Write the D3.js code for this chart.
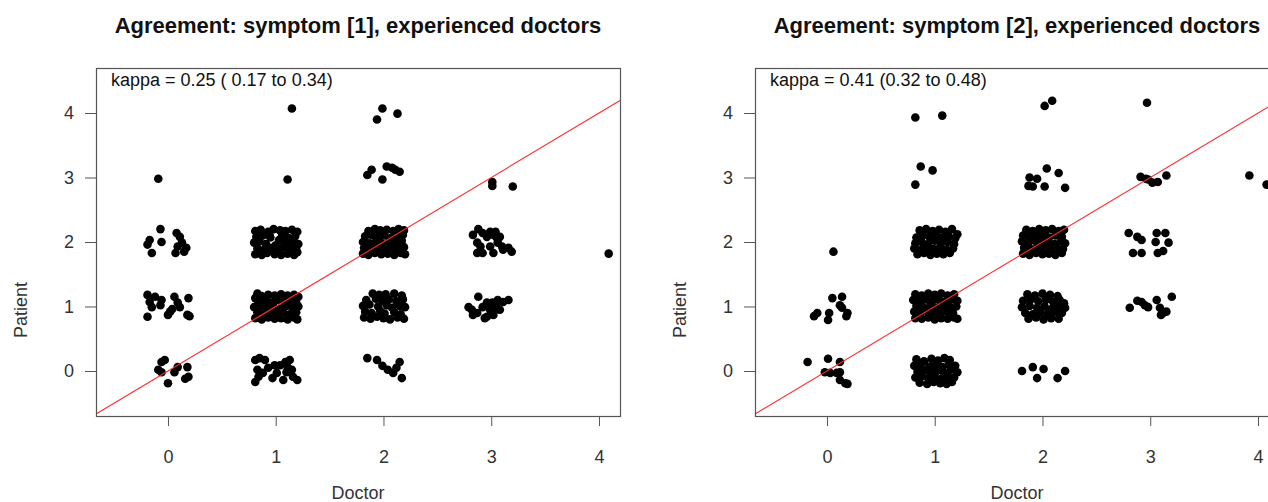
<!DOCTYPE html>
<html><head><meta charset="utf-8">
<script src="https://cdn.jsdelivr.net/npm/d3@7"></script>
<style>body{margin:0;background:#fff;overflow:hidden}</style>
</head><body>
<script>
// ---------- data ----------
const titles = ["Agreement: symptom [1], experienced doctors", "Agreement: symptom [2], experienced doctors"];
const kappaLabels = ["kappa = 0.25 ( 0.17 to 0.34)", "kappa = 0.41 (0.32 to 0.48)"];
const xTicks = [0, 1, 2, 3, 4];
const yTicks = [0, 1, 2, 3, 4];
const xLabel = "Doctor";
const yLabel = "Patient";

// jittered [doctor, patient] ratings, symptom 1
const symptom1Points = [
  [-0.09,2.98],[1.15,4.07],[1.11,2.97],
  [1.99,4.07],[1.94,3.90],[2.13,3.99],
  [1.85,3.04],[1.89,3.12],[1.99,2.97],[2.03,3.17],[2.08,3.15],[2.11,3.12],[2.15,3.09],
  [3.01,2.93],[3.01,2.87],[3.20,2.86],
  [4.09,1.82],
  [1.85,0.20],[1.94,0.17],[1.99,0.08],[2.04,0.02],[2.09,-0.03],[2.15,0.14],[2.12,0.05],[2.17,-0.11],
  [-0.07,2.20],[-0.17,2.03],[-0.19,1.96],[-0.15,1.83],[-0.06,2.00],[0.08,2.14],[0.11,2.08],[0.13,1.99],[0.09,1.93],[0.07,1.83],[0.15,1.85],[0.17,1.91],
  [-0.19,1.18],[-0.12,1.15],[-0.17,1.07],[-0.15,0.99],[-0.19,0.84],[-0.07,1.02],[0.00,0.87],[0.02,0.92],[0.06,1.15],[0.09,1.06],[0.11,0.99],[0.19,1.13],[0.18,0.87],[0.20,0.85],[-0.06,1.10],[0.04,0.96],
  [-0.06,0.14],[-0.03,0.17],[-0.09,0.02],[-0.06,-0.02],[0.06,-0.02],[0.00,-0.19],[0.09,0.06],[0.18,0.06],[0.19,-0.09],[0.16,-0.12],
  [0.81,0.17],[0.85,0.20],[0.83,0.02],[0.81,-0.17],[0.88,-0.03],[0.97,-0.11],[1.01,-0.03],[1.04,0.09],[1.09,0.14],[1.11,0.06],[1.13,0.17],[1.16,-0.09],[1.20,-0.14],[1.07,-0.14],[0.93,0.05],[1.10,-0.02],[0.90,0.17],[0.99,0.09],[0.84,-0.09],[1.15,0.02],
  [2.83,2.11],[2.88,2.20],[2.92,2.14],[2.96,2.08],[2.99,2.16],[3.02,2.11],[3.05,2.07],[3.06,1.99],[3.10,1.93],[3.11,1.88],[3.19,1.85],[3.16,1.91],[2.87,1.99],[2.90,1.93],[2.87,1.83],[2.92,1.83],[3.02,1.83],[2.99,1.93],[3.08,2.08],[3.04,2.16],
  [2.79,0.99],[2.82,0.95],[2.83,0.87],[2.88,1.15],[2.92,0.99],[2.96,1.06],[2.99,0.95],[2.96,0.84],[3.02,0.87],[3.05,0.99],[3.06,1.10],[3.11,1.07],[3.16,1.10],[3.08,0.95],[3.01,1.06],[2.94,0.82],[3.04,0.95],[2.87,0.90],
  [0.81,2.17],[0.86,2.19],[0.93,2.16],[0.98,2.20],[1.04,2.18],[1.09,2.17],[1.15,2.19],[1.20,2.16],
  [0.82,2.08],[0.88,2.10],[0.95,2.07],[1.06,2.10],[1.12,2.06],[1.18,2.09],
  [0.80,1.99],[0.85,2.01],[0.91,1.97],[1.00,1.95],[1.03,2.03],[1.10,1.98],[1.16,2.00],[1.21,1.97],
  [0.83,1.90],[0.89,1.88],[0.96,1.91],[1.02,1.87],[1.07,1.92],[1.13,1.89],[1.19,1.91],
  [0.81,1.81],[0.87,1.80],[0.92,1.83],[0.99,1.81],[1.05,1.80],[1.11,1.82],[1.17,1.80],[1.20,1.84],[0.94,2.12],[1.08,2.02],
  [0.83,1.20],[0.81,1.13],[0.87,1.16],[0.93,1.18],[0.99,1.17],[1.05,1.19],[1.11,1.17],[1.17,1.18],[1.21,1.15],
  [0.84,1.07],[0.90,1.09],[0.96,1.06],[1.02,1.10],[1.08,1.07],[1.14,1.09],[1.19,1.06],
  [0.80,0.99],[0.86,1.01],[0.92,0.98],[0.98,1.00],[1.04,0.97],[1.10,1.01],[1.16,0.98],[1.21,1.00],
  [0.83,0.91],[0.89,0.89],[0.95,0.92],[1.01,0.90],[1.07,0.91],[1.13,0.88],[1.19,0.91],
  [0.81,0.82],[0.87,0.80],[0.93,0.83],[0.99,0.81],[1.05,0.82],[1.11,0.80],[1.17,0.83],[1.20,0.80],
  [1.86,2.17],[1.92,2.20],[1.97,2.18],[2.03,2.19],[2.09,2.17],[2.14,2.20],[2.19,2.18],
  [1.83,2.09],[1.89,2.11],[1.95,2.08],[2.01,2.10],[2.07,2.06],[2.13,2.09],[2.18,2.11],
  [1.81,2.00],[1.87,1.98],[1.93,2.01],[1.99,1.97],[2.05,2.00],[2.11,1.98],[2.17,2.02],
  [1.82,1.91],[1.88,1.89],[1.94,1.92],[2.00,1.88],[2.06,1.91],[2.12,1.89],[2.19,1.92],
  [1.81,1.82],[1.86,1.80],[1.92,1.83],[1.98,1.81],[2.04,1.82],[2.10,1.80],[2.16,1.83],[2.20,1.81],[1.96,2.04],[2.15,1.95],
  [1.90,1.20],[1.96,1.18],[2.02,1.19],[2.10,1.20],[2.17,1.17],
  [1.84,1.10],[1.93,1.12],[1.99,1.09],[2.05,1.11],[2.12,1.08],[2.18,1.11],
  [1.81,1.01],[1.87,1.03],[1.95,1.00],[2.03,1.02],[2.08,0.98],[2.15,1.01],[2.20,0.99],
  [1.83,0.92],[1.89,0.90],[1.97,0.93],[2.01,0.89],[2.10,0.91],[2.16,0.88],
  [1.82,0.83],[1.88,0.81],[1.94,0.84],[2.00,0.82],[2.06,0.80],[2.13,0.83],[2.19,0.81]
];

// jittered [doctor, patient] ratings, symptom 2
const symptom2Points = [
  [0.06,1.85],
  [0.82,3.93],[1.07,3.96],
  [0.82,2.89],[0.87,3.17],[0.98,3.11],
  [2.02,4.11],[2.09,4.19],[2.97,4.16],
  [3.92,3.03],[4.08,2.89],
  [1.88,3.00],[1.87,2.87],[1.95,2.98],[2.04,3.14],[2.15,3.07],[2.21,2.84],[2.02,2.86],[1.91,2.86],
  [2.91,3.01],[2.96,2.98],[3.02,2.92],[3.07,2.93],[3.15,3.03],[2.98,2.97],
  [2.80,2.14],[2.88,2.08],[2.92,2.03],[2.84,1.83],[2.92,1.83],[3.05,2.00],[3.07,1.83],[3.12,1.86],[3.14,2.14],[3.17,1.99],[3.06,2.14],
  [2.81,0.98],[2.88,1.09],[2.92,1.07],[2.95,1.02],[2.98,0.99],[3.06,1.10],[3.09,0.98],[3.12,0.90],[3.15,0.92],[3.20,1.15],[3.10,0.87],
  [1.81,0.00],[1.91,0.06],[2.01,0.03],[1.95,-0.11],[2.14,-0.11],[2.21,0.00],
  [0.05,1.13],[0.14,1.15],[0.12,1.02],[0.14,0.98],[-0.09,0.90],[-0.12,0.85],[0.02,0.90],[0.01,0.79],[0.19,0.90],[0.18,0.85],
  [-0.18,0.14],[0.01,0.19],[0.12,0.14],[-0.02,-0.02],[0.03,-0.03],[0.09,-0.03],[0.12,-0.02],[0.12,-0.14],[0.17,-0.19],[0.19,-0.20],
  [0.86,2.18],[0.92,2.20],[0.98,2.17],[1.04,2.19],[1.10,2.16],[1.16,2.20],
  [0.83,2.07],[0.89,2.10],[0.95,2.08],[1.01,2.11],[1.07,2.07],[1.13,2.09],[1.19,2.06],[1.21,2.12],
  [0.82,1.98],[0.88,2.00],[0.94,1.97],[1.00,2.02],[1.06,1.98],[1.12,2.00],[1.18,1.97],
  [0.81,1.90],[0.87,1.88],[0.93,1.91],[0.99,1.89],[1.05,1.92],[1.11,1.88],[1.17,1.90],
  [0.84,1.81],[0.90,1.83],[0.96,1.80],[1.02,1.82],[1.08,1.81],[1.14,1.83],[1.03,2.05],[0.91,1.95],
  [0.82,1.19],[0.88,1.17],[0.94,1.20],[1.00,1.18],[1.06,1.20],[1.12,1.17],[1.18,1.19],
  [0.80,1.10],[0.86,1.08],[0.92,1.11],[0.98,1.09],[1.04,1.10],[1.10,1.08],[1.16,1.11],[1.21,1.09],
  [0.83,1.01],[0.89,0.99],[0.96,1.02],[1.02,0.98],[1.08,1.01],[1.14,0.99],[1.20,1.00],
  [0.81,0.92],[0.87,0.90],[0.93,0.93],[0.99,0.91],[1.05,0.89],[1.11,0.92],[1.17,0.90],
  [0.82,0.82],[0.88,0.81],[0.94,0.83],[1.00,0.80],[1.06,0.82],[1.12,0.81],[1.18,0.83],[1.21,0.81],[0.85,1.04],[1.07,0.95],
  [0.83,0.18],[0.90,0.15],[0.97,0.19],[1.03,0.16],[1.09,0.20],[1.14,0.17],
  [0.81,0.08],[0.87,0.10],[0.95,0.07],[1.01,0.09],[1.07,0.06],[1.13,0.10],[1.19,0.08],
  [0.84,-0.01],[0.90,0.01],[0.96,-0.02],[1.02,0.00],[1.08,-0.01],[1.15,0.02],[1.21,-0.02],
  [0.82,-0.10],[0.88,-0.08],[0.94,-0.11],[1.00,-0.09],[1.06,-0.12],[1.12,-0.08],[1.18,-0.10],
  [0.86,-0.18],[0.93,-0.20],[0.99,-0.17],[1.05,-0.19],[1.11,-0.20],[1.16,-0.17],
  [1.85,2.19],[1.91,2.17],[1.97,2.20],[2.03,2.18],[2.09,2.20],[2.15,2.17],[2.20,2.19],
  [1.82,2.10],[1.88,2.08],[1.94,2.11],[2.00,2.09],[2.06,2.07],[2.12,2.10],[2.18,2.08],
  [1.81,2.01],[1.87,1.99],[1.93,2.02],[1.99,1.98],[2.05,2.00],[2.11,1.97],[2.17,2.01],[2.21,1.98],
  [1.83,1.91],[1.89,1.89],[1.95,1.92],[2.01,1.90],[2.07,1.88],[2.13,1.91],[2.19,1.89],
  [1.82,1.82],[1.88,1.80],[1.94,1.83],[2.00,1.81],[2.06,1.82],[2.12,1.80],[2.18,1.83],[1.97,2.05],[2.08,1.94],
  [1.86,1.19],[1.93,1.17],[2.00,1.20],[2.07,1.18],[2.14,1.16],
  [1.82,1.09],[1.89,1.11],[1.96,1.08],[2.03,1.10],[2.10,1.07],[2.16,1.10],[2.20,1.05],
  [1.81,0.99],[1.88,1.01],[1.95,0.98],[2.02,1.00],[2.09,0.97],[2.15,1.00],[2.21,0.98],
  [1.84,0.90],[1.91,0.88],[1.98,0.91],[2.05,0.89],[2.12,0.92],[2.18,0.90],
  [1.87,0.81],[1.94,0.83],[2.01,0.80],[2.08,0.82],[2.15,0.81]
];

const panelPoints = [symptom1Points, symptom2Points];

// ---------- drawing ----------
const W = 1268, H = 502;
const FONT = "'Liberation Sans', Arial, sans-serif";
const svg = d3.select("body").append("svg").attr("width", W).attr("height", H);

const boxTop = 68, boxH = 348, boxW = 524;
const panelLefts = [96, 755];

panelLefts.forEach((left, i) => {
  const x = d3.scaleLinear().domain([-0.668, 4.195]).range([left, left + boxW]);
  const y = d3.scaleLinear().domain([-0.698, 4.698]).range([boxTop + boxH, boxTop]);
  const g = svg.append("g");

  // title
  g.append("text").attr("x", left + boxW / 2).attr("y", 33)
    .attr("text-anchor", "middle").attr("font-family", FONT)
    .attr("font-weight", "bold").attr("font-size", 22).attr("fill", "#111")
    .text(titles[i]);

  // x axis
  const xAxis = d3.axisBottom(x).tickValues(xTicks).tickSize(10).tickPadding(24).tickFormat(d3.format("d"));
  const gx = g.append("g").attr("transform", `translate(0,${boxTop + boxH})`).call(xAxis);
  gx.select(".domain").remove();
  gx.selectAll("line").attr("stroke", "#555");
  gx.selectAll("text").attr("font-family", FONT).attr("font-size", 18).attr("fill", "#333");

  // y axis
  const yAxis = d3.axisLeft(y).tickValues(yTicks).tickSize(11).tickPadding(11).tickFormat(d3.format("d"));
  const gy = g.append("g").attr("transform", `translate(${left},0)`).call(yAxis);
  gy.select(".domain").remove();
  gy.selectAll("line").attr("stroke", "#555");
  gy.selectAll("text").attr("font-family", FONT).attr("font-size", 18).attr("fill", "#333");

  // axis labels
  g.append("text").attr("x", left + boxW / 2).attr("y", 499)
    .attr("text-anchor", "middle").attr("font-family", FONT).attr("font-size", 18).attr("fill", "#333")
    .text(xLabel);
  g.append("text").attr("transform", `translate(${left - 69},${boxTop + boxH / 2 + 68}) rotate(-90)`)
    .attr("text-anchor", "middle").attr("font-family", FONT).attr("font-size", 18).attr("fill", "#333")
    .text(yLabel);

  // points
  g.append("g").selectAll("circle").data(panelPoints[i]).join("circle")
    .attr("cx", d => x(d[0])).attr("cy", d => y(d[1])).attr("r", 4.3).attr("fill", "#000");

  // identity line
  const xd = x.domain();
  g.append("line").attr("x1", x(xd[0])).attr("y1", y(xd[0])).attr("x2", x(xd[1])).attr("y2", y(xd[1]))
    .attr("stroke", "#ff2a2a").attr("stroke-width", 1.1);

  // kappa label
  g.append("text").attr("x", left + 15).attr("y", 86).attr("font-family", FONT)
    .attr("font-size", 18).attr("fill", "#111").text(kappaLabels[i]);

  // box
  g.append("rect").attr("x", left + 0.5).attr("y", boxTop + 0.5).attr("width", boxW).attr("height", boxH)
    .attr("fill", "none").attr("stroke", "#555").attr("stroke-width", 1.2);
});
</script>
</body></html>
